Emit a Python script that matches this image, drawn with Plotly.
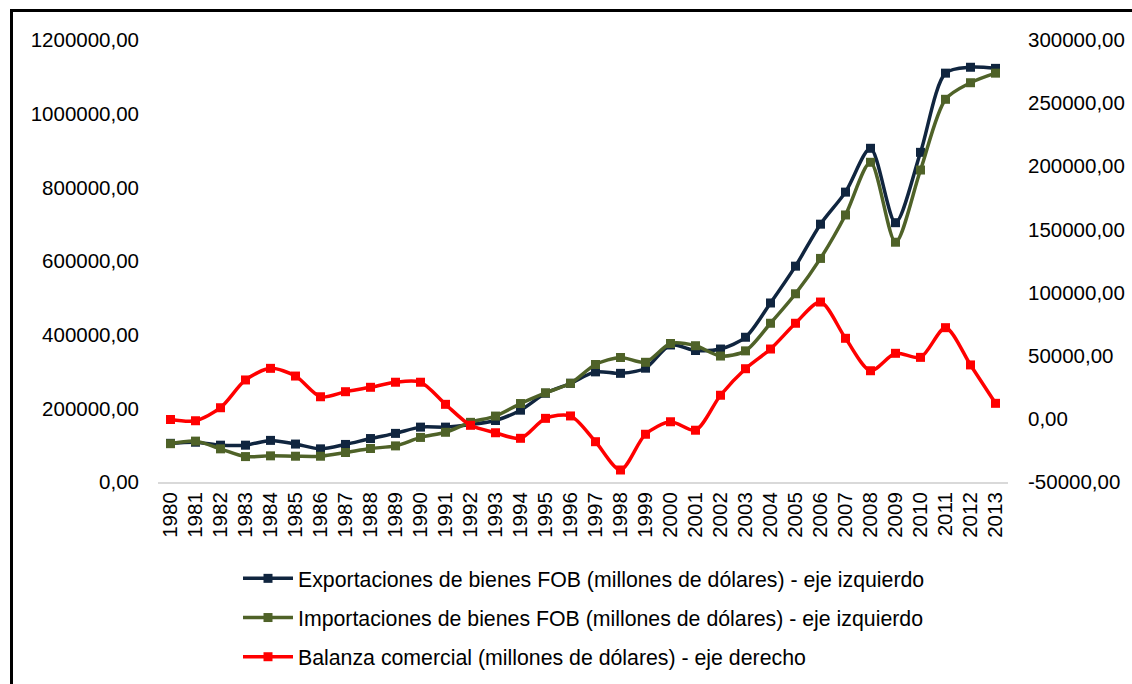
import plotly.graph_objects as go

years = [str(y) for y in range(1980, 2014)]

exports = [105000, 108000, 100000, 100000, 113000, 103000, 90000, 102000, 118000, 132000,
           149000, 149000, 156000, 167000, 195000, 241000, 268000, 299000, 295000, 309000,
           372000, 357000, 361000, 393000, 486000, 586000, 700000, 787000, 906000, 704000,
           895000, 1110000, 1126000, 1123000]

imports = [104000, 111000, 90000, 69000, 71000, 70000, 70000, 80000, 91000, 98000,
           121000, 135000, 162000, 179000, 213000, 242000, 268000, 319000, 338000, 325000,
           376000, 370000, 342000, 356000, 431000, 511000, 607000, 725000, 868000, 651000,
           847000, 1039000, 1084000, 1110000]

balance = [-500, -1500, 8800, 30800, 40000, 33900, 17500, 21500, 25000, 29000,
           29000, 11500, -5100, -11000, -15400, 400, 2300, -18100, -40500, -12200,
           -2300, -9000, 18700, 39700, 55300, 75700, 92500, 63800, 38100, 51900,
           48700, 72200, 42700, 12300]

left_ticks = [0, 200000, 400000, 600000, 800000, 1000000, 1200000]
left_labels = ["0,00", "200000,00", "400000,00", "600000,00", "800000,00", "1000000,00", "1200000,00"]
right_ticks = [-50000, 0, 50000, 100000, 150000, 200000, 250000, 300000]
right_labels = ["-50000,00", "0,00", "50000,00", "100000,00", "150000,00", "200000,00", "250000,00", "300000,00"]

names = ["Exportaciones de bienes FOB (millones de dólares) - eje izquierdo",
         "Importaciones de bienes FOB (millones de dólares) - eje izquierdo",
         "Balanza comercial (millones de dólares) - eje derecho"]
colors = ["#10253F", "#4F6228", "#FF0000"]

FONT = "Liberation Sans, Arial, sans-serif"

fig = go.Figure()
series = [exports, imports, balance]
for i, vals in enumerate(series):
    fig.add_trace(go.Scatter(
        x=years, y=vals, name=names[i], mode="lines+markers",
        yaxis="y2" if i == 2 else "y", legendgroup="g%d" % i,
        line=dict(color=colors[i], width=3.5, shape="spline", smoothing=0.8),
        marker=dict(symbol="square", size=9, color=colors[i])))

W, H = 1132, 684
L, R, T, B = 158, 124, 40, 202
pw, ph = W - L - R, H - T - B

def px_x(p):
    return (p - L) / pw

def px_y(p):
    return (H - B - p) / ph

line_style = dict(color="black", width=3)
fig.add_shape(type="line", xref="paper", yref="paper", x0=px_x(11.5), x1=px_x(11.5),
              y0=px_y(10.5), y1=px_y(690), line=line_style)
fig.add_shape(type="line", xref="paper", yref="paper", x0=px_x(10), x1=px_x(1140),
              y0=px_y(10.5), y1=px_y(10.5), line=line_style)

TS = 20.5
fig.update_layout(
    width=W, height=H,
    margin=dict(l=L, r=R, t=T, b=B, autoexpand=False),
    paper_bgcolor="white", plot_bgcolor="white",
    font=dict(family=FONT, size=TS, color="black"),
    showlegend=True,
    legend=dict(x=px_x(238), y=px_y(558), xanchor="left", yanchor="top",
                font=dict(family=FONT, size=21.3),
                tracegroupgap=8.5, itemwidth=50, bgcolor="rgba(0,0,0,0)"),
    xaxis=dict(type="category", range=[-0.5, len(years) - 0.5], tickangle=-90,
               tickmode="array", tickvals=years, ticktext=years,
               showgrid=False, showline=True, linecolor="#D9D9D9", linewidth=2,
               ticks="", tickfont=dict(size=TS), zeroline=False, automargin=False),
    yaxis=dict(range=[0, 1200000], tickvals=left_ticks, ticktext=left_labels,
               showgrid=False, zeroline=False, showline=False, ticks="",
               ticklabelstandoff=18, tickfont=dict(size=TS), automargin=False),
    yaxis2=dict(range=[-50000, 300000], tickvals=right_ticks, ticktext=right_labels,
                overlaying="y", side="right", showgrid=False, zeroline=False,
                showline=False, ticks="", ticklabelstandoff=19, tickfont=dict(size=TS),
                automargin=False),
)

fig.write_html("out.html", config={"displayModeBar": False},
               post_script="document.body.style.margin='0';document.body.style.overflow='hidden';")
